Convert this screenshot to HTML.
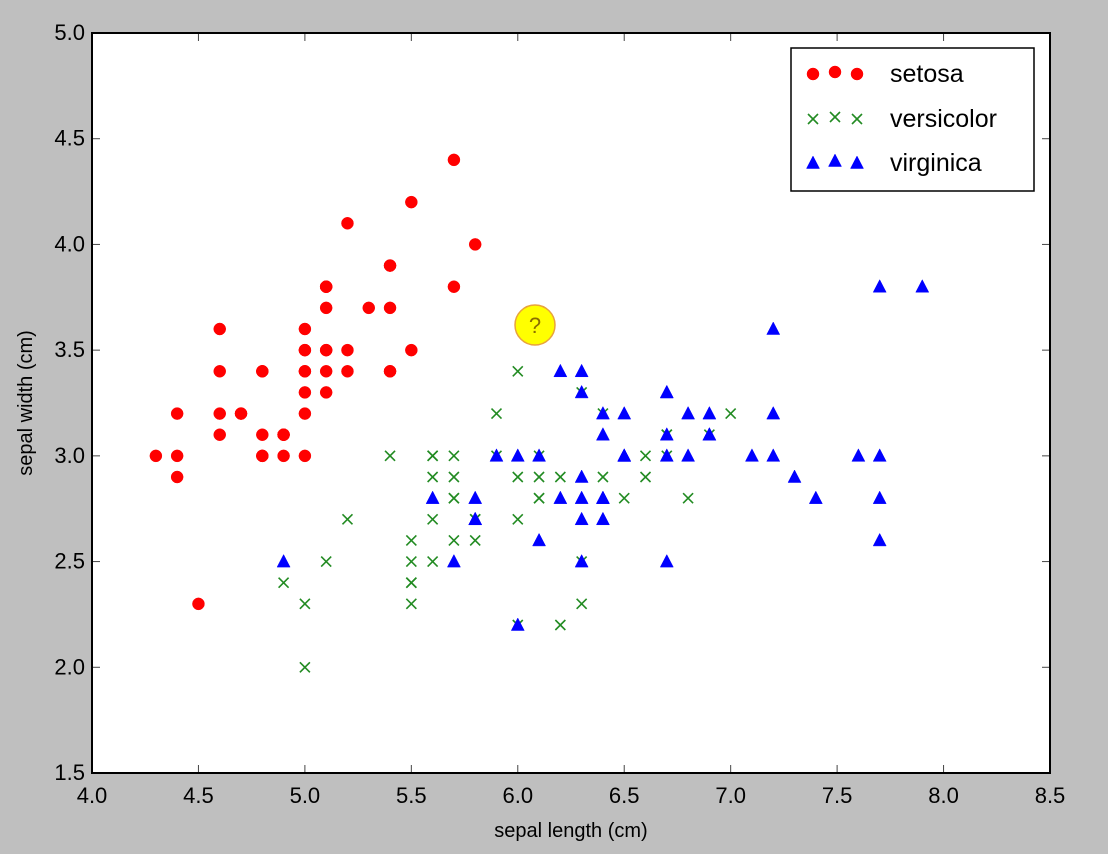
<!DOCTYPE html>
<html><head><meta charset="utf-8"><style>
html,body{margin:0;padding:0;background:#bfbfbf;}
svg{display:block;font-family:"Liberation Sans",sans-serif;}
</style></head><body>
<svg id="chart" width="1108" height="854" viewBox="0 0 1108 854" xmlns="http://www.w3.org/2000/svg">
<rect x="0" y="0" width="1108" height="854" fill="#bfbfbf"/>
<rect x="92" y="33" width="958" height="740" fill="#fff"/>
<g id="marks"></g>
<g id="axes"></g>
<rect x="92" y="33" width="958" height="740" fill="none" stroke="#000" stroke-width="2"/>
<text x="571" y="837" font-size="20" text-anchor="middle">sepal length (cm)</text>
<text transform="translate(32,403) rotate(-90)" font-size="20" text-anchor="middle">sepal width (cm)</text>
<g>
<rect x="791" y="48" width="243" height="143" fill="#fff" stroke="#000" stroke-width="1.5"/>
<g id="legend-marks"></g>
<text x="890" y="82" font-size="25">setosa</text>
<text x="890" y="127" font-size="25">versicolor</text>
<text x="890" y="171" font-size="25">virginica</text>
</g>
<g>
<circle cx="535" cy="325" r="20" fill="#ffff00" stroke="#e8a33c" stroke-width="1.5"/>
<text x="535" y="333" font-size="22" text-anchor="middle" fill="#8a6d00">?</text>
</g>
</svg>
<script>
const setosaX=[5.1,4.9,4.7,4.6,5.0,5.4,4.6,5.0,4.4,4.9,5.4,4.8,4.8,4.3,5.8,5.7,5.4,5.1,5.7,5.1,5.4,5.1,4.6,5.1,4.8,5.0,5.0,5.2,5.2,4.7,4.8,5.4,5.2,5.5,4.9,5.0,5.5,4.9,4.4,5.1,5.0,4.5,4.4,5.0,5.1,4.8,5.1,4.6,5.3,5.0];
const setosaY=[3.5,3.0,3.2,3.1,3.6,3.9,3.4,3.4,2.9,3.1,3.7,3.4,3.0,3.0,4.0,4.4,3.9,3.5,3.8,3.8,3.4,3.7,3.6,3.3,3.4,3.0,3.4,3.5,3.4,3.2,3.1,3.4,4.1,4.2,3.1,3.2,3.5,3.1,3.0,3.4,3.5,2.3,3.2,3.5,3.8,3.0,3.8,3.2,3.7,3.3];
const versicolorX=[7.0,6.4,6.9,5.5,6.5,5.7,6.3,4.9,6.6,5.2,5.0,5.9,6.0,6.1,5.6,6.7,5.6,5.8,6.2,5.6,5.9,6.1,6.3,6.1,6.4,6.6,6.8,6.7,6.0,5.7,5.5,5.5,5.8,6.0,5.4,6.0,6.7,6.3,5.6,5.5,5.5,6.1,5.8,5.0,5.6,5.7,5.7,6.2,5.1,5.7];
const versicolorY=[3.2,3.2,3.1,2.3,2.8,2.8,3.3,2.4,2.9,2.7,2.0,3.0,2.2,2.9,2.9,3.1,3.0,2.7,2.2,2.5,3.2,2.8,2.5,2.8,2.9,3.0,2.8,3.0,2.9,2.6,2.4,2.4,2.7,2.7,3.0,3.4,3.1,2.3,3.0,2.5,2.6,3.0,2.6,2.3,2.7,3.0,2.9,2.9,2.5,2.8];
const virginicaX=[6.3,5.8,7.1,6.3,6.5,7.6,4.9,7.3,6.7,7.2,6.5,6.4,6.8,5.7,5.8,6.4,6.5,7.7,7.7,6.0,6.9,5.6,7.7,6.3,6.7,7.2,6.2,6.1,6.4,7.2,7.4,7.9,6.4,6.3,6.1,7.7,6.3,6.4,6.0,6.9,6.7,6.9,5.8,6.8,6.7,6.7,6.3,6.5,6.2,5.9];
const virginicaY=[3.3,2.7,3.0,2.9,3.0,3.0,2.5,2.9,2.5,3.6,3.2,2.7,3.0,2.5,2.8,3.2,3.0,3.8,2.6,2.2,3.2,2.8,2.8,2.7,3.3,3.2,2.8,3.0,2.8,3.0,2.8,3.8,2.8,2.8,2.6,3.0,3.4,3.1,3.0,3.1,3.1,3.1,2.7,3.2,3.3,3.0,2.5,3.0,3.4,3.0];
const xTicks=[4.0,4.5,5.0,5.5,6.0,6.5,7.0,7.5,8.0,8.5];
const yTicks=[1.5,2.0,2.5,3.0,3.5,4.0,4.5,5.0];

const NS="http://www.w3.org/2000/svg";
const L=92,R=1050,T=33,B=773;
function sx(v){return L+(v-4.0)/(8.5-4.0)*(R-L);}
function sy(v){return B-(v-1.5)/(5.0-1.5)*(B-T);}
function mk(tag,attrs,parent){const e=document.createElementNS(NS,tag);for(const k in attrs)e.setAttribute(k,attrs[k]);parent.appendChild(e);return e;}
const marks=document.getElementById('marks'),axes=document.getElementById('axes'),lm=document.getElementById('legend-marks');

function circle(x,y,p){return mk('circle',{cx:x,cy:y,r:6,fill:'#ff0000',stroke:'#ff0000','stroke-width':0.5},p);}
function cross(x,y,p){const g=mk('g',{stroke:'#228b22','stroke-width':1.6},p);mk('line',{x1:x-5,y1:y-5,x2:x+5,y2:y+5},g);mk('line',{x1:x-5,y1:y+5,x2:x+5,y2:y-5},g);return g;}
function tri(x,y,p){return mk('polygon',{points:`${x},${y-7} ${x-6.5},${y+5.5} ${x+6.5},${y+5.5}`,fill:'#0000ff',stroke:'#0000ff','stroke-width':0.5},p);}

for(let i=0;i<setosaX.length;i++){const e=circle(sx(setosaX[i]),sy(setosaY[i]),marks);

}
for(let i=0;i<versicolorX.length;i++){const e=cross(sx(versicolorX[i]),sy(versicolorY[i]),marks);

}
for(let i=0;i<virginicaX.length;i++){const e=tri(sx(virginicaX[i]),sy(virginicaY[i]),marks);

}

xTicks.forEach(v=>{const x=sx(v);
mk('line',{x1:x,y1:B,x2:x,y2:B-8,stroke:'#444','stroke-width':1},axes);
mk('line',{x1:x,y1:T,x2:x,y2:T+8,stroke:'#444','stroke-width':1},axes);
const t=mk('text',{x:x,y:803,'font-size':22,'text-anchor':'middle'},axes);t.textContent=v.toFixed(1);

});
yTicks.forEach(v=>{const y=sy(v);
mk('line',{x1:L,y1:y,x2:L+8,y2:y,stroke:'#444','stroke-width':1},axes);
mk('line',{x1:R,y1:y,x2:R-8,y2:y,stroke:'#444','stroke-width':1},axes);
const t=mk('text',{x:85,y:y+7,'font-size':22,'text-anchor':'end'},axes);t.textContent=v.toFixed(1);

});

[813,835,857].forEach((x,i)=>{const dy=i===1?-2:0;
const a=circle(x,74+dy,lm);
const b=cross(x,119+dy,lm);
const c=tri(x,163+dy,lm);});
</script>
</body></html>
